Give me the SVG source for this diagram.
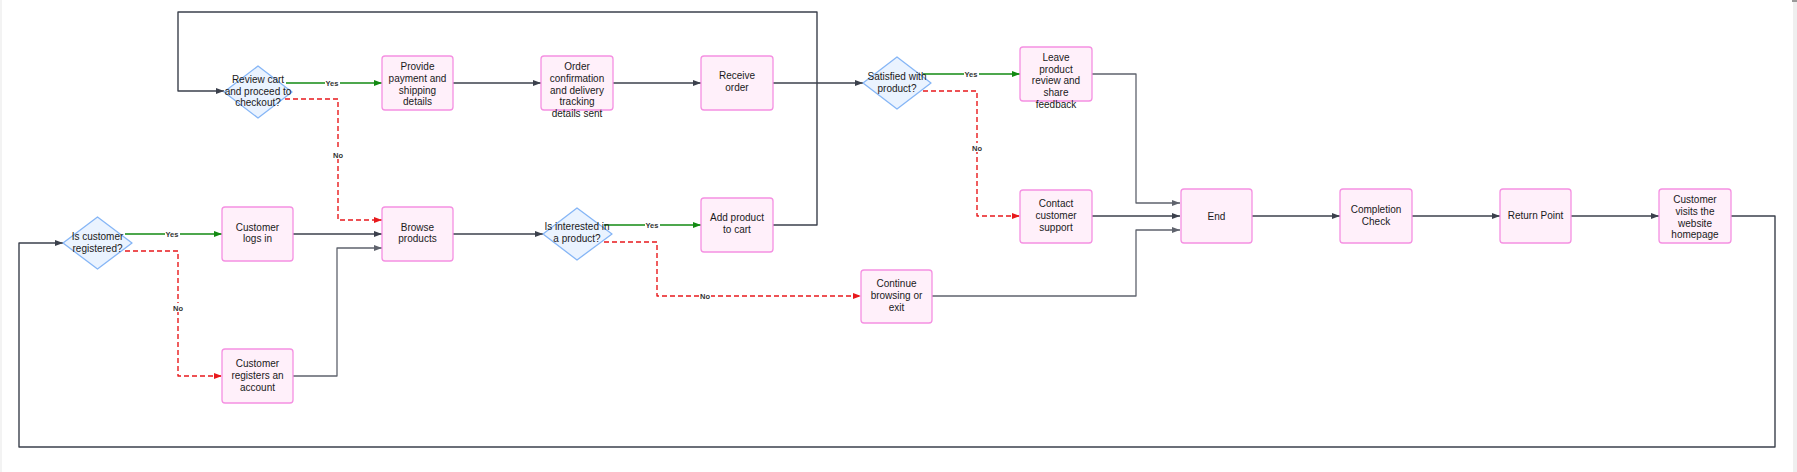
<svg xmlns="http://www.w3.org/2000/svg" width="1797" height="472" viewBox="0 0 1797 472">
<defs>
<style>
.box{fill:#fff0fa;stroke:#f590e2;stroke-width:1.3}
.dia{fill:#eaf3ff;stroke:#86b6f6;stroke-width:1.3;stroke-linejoin:round}
.t{font-family:"Liberation Sans",Arial,sans-serif;font-size:10px;fill:#1a1a1a;text-anchor:middle}
.lbl{font-family:"Liberation Sans",Arial,sans-serif;font-size:7.5px;font-weight:bold;fill:#333;text-anchor:middle}
.c{fill:none;stroke:#3b404c;stroke-width:1.4;stroke-linejoin:round}
.cl{fill:none;stroke:#5f636d;stroke-width:1.3;stroke-linejoin:round}
.g{fill:none;stroke:#128a12;stroke-width:1.4}
.r{fill:none;stroke:#e8191c;stroke-width:1.4;stroke-dasharray:5 3;stroke-linejoin:round}
.lb{fill:#fff}
</style>
<marker id="ad" markerUnits="userSpaceOnUse" markerWidth="9" markerHeight="7" refX="8" refY="3" orient="auto"><path d="M0,0 L8,3 L0,6 z" fill="#3b404c"/></marker>
<marker id="al" markerUnits="userSpaceOnUse" markerWidth="9" markerHeight="7" refX="8" refY="3" orient="auto"><path d="M0,0 L8,3 L0,6 z" fill="#5f636d"/></marker>
<marker id="ag" markerUnits="userSpaceOnUse" markerWidth="9" markerHeight="7" refX="8" refY="3" orient="auto"><path d="M0,0 L8,3 L0,6 z" fill="#128a12"/></marker>
<marker id="ar" markerUnits="userSpaceOnUse" markerWidth="9" markerHeight="7" refX="8" refY="3" orient="auto"><path d="M0,0 L8,3 L0,6 z" fill="#e8191c"/></marker>
</defs>
<rect x="0" y="0" width="1797" height="472" fill="#fff"/>
<rect x="0" y="0" width="2" height="472" fill="#f3f3f3"/>
<rect x="1793" y="0" width="4" height="472" fill="#efefef"/>
<rect x="1792" y="0" width="5" height="2" fill="#9a9a9a"/>

<g id="connectors">
<path class="g" d="M125,234 H222" marker-end="url(#ag)"/>
<path class="r" d="M125,251 H178 V376 H222" marker-end="url(#ar)"/>
<path class="c" d="M293,234 H382" marker-end="url(#ad)"/>
<path class="cl" d="M293,376 H337 V248 H382" marker-end="url(#al)"/>
<path class="r" d="M285,99 H338 V220 H382" marker-end="url(#ar)"/>
<path class="g" d="M286,83 H382" marker-end="url(#ag)"/>
<path class="c" d="M453,83 H541" marker-end="url(#ad)"/>
<path class="c" d="M613,83 H701" marker-end="url(#ad)"/>
<path class="c" d="M773,83 H863" marker-end="url(#ad)"/>
<path class="c" d="M453,234 H543" marker-end="url(#ad)"/>
<path class="g" d="M604,225 H701" marker-end="url(#ag)"/>
<path class="r" d="M604,242 H657 V296 H861" marker-end="url(#ar)"/>
<path class="c" d="M773,225 H817 V12 H178 V91 H224" marker-end="url(#ad)"/>
<path class="g" d="M923,74 H1020" marker-end="url(#ag)"/>
<path class="r" d="M923,91 H977 V216 H1020" marker-end="url(#ar)"/>
<path class="cl" d="M1092,74 H1136 V203 H1180" marker-end="url(#al)"/>
<path class="c" d="M1092,216 H1180" marker-end="url(#ad)"/>
<path class="cl" d="M932,296 H1136 V230 H1180" marker-end="url(#al)"/>
<path class="c" d="M1252,216 H1340" marker-end="url(#ad)"/>
<path class="c" d="M1412,216 H1500" marker-end="url(#ad)"/>
<path class="c" d="M1571,216 H1659" marker-end="url(#ad)"/>
<path class="c" d="M1731,216 H1775 V447 H19 V243 H63" marker-end="url(#ad)"/>
<rect class="lb" x="165" y="230" width="15" height="8"/><text class="lbl" x="172" y="236.5">Yes</text>
<rect class="lb" x="172" y="303" width="12" height="9"/><text class="lbl" x="178" y="310.5">No</text>
<rect class="lb" x="325" y="79" width="15" height="8"/><text class="lbl" x="332" y="85.5">Yes</text>
<rect class="lb" x="332" y="150" width="12" height="9"/><text class="lbl" x="338" y="157.5">No</text>
<rect class="lb" x="645" y="221" width="15" height="8"/><text class="lbl" x="652" y="227.5">Yes</text>
<rect class="lb" x="699" y="292" width="12" height="8"/><text class="lbl" x="705" y="298.5">No</text>
<rect class="lb" x="964" y="70" width="15" height="8"/><text class="lbl" x="971" y="76.5">Yes</text>
<rect class="lb" x="971" y="143" width="12" height="9"/><text class="lbl" x="977" y="150.5">No</text>
</g>

<g id="n1"><path class="dia" d="M97.5,217 L132,243 L97.5,269 L63,243 Z"/><text class="t" x="97.5" y="240">Is customer</text><text class="t" x="97.5" y="251.5">registered?</text></g>
<g id="n2"><rect class="box" x="222" y="207" width="71" height="54" rx="3"/><text class="t" x="257.5" y="230.5">Customer</text><text class="t" x="257.5" y="242">logs in</text></g>
<g id="n3"><rect class="box" x="222" y="349" width="71" height="54" rx="3"/><text class="t" x="257.5" y="366.5">Customer</text><text class="t" x="257.5" y="378.5">registers an</text><text class="t" x="257.5" y="390.5">account</text></g>
<g id="n4"><rect class="box" x="382" y="207" width="71" height="54" rx="3"/><text class="t" x="417.5" y="230.5">Browse</text><text class="t" x="417.5" y="242">products</text></g>
<g id="n5"><path class="dia" d="M258,66 L292,92 L258,118 L224,92 Z"/><text class="t" x="258" y="82.5">Review cart</text><text class="t" x="258" y="94.5">and proceed to</text><text class="t" x="258" y="106">checkout?</text></g>
<g id="n6"><rect class="box" x="382" y="56" width="71" height="54" rx="3"/><text class="t" x="417.5" y="69.5">Provide</text><text class="t" x="417.5" y="81.5">payment and</text><text class="t" x="417.5" y="93.5">shipping</text><text class="t" x="417.5" y="105">details</text></g>
<g id="n7"><rect class="box" x="541" y="56" width="72" height="54" rx="3"/><text class="t" x="577" y="69.5">Order</text><text class="t" x="577" y="81.5">confirmation</text><text class="t" x="577" y="93.5">and delivery</text><text class="t" x="577" y="105">tracking</text><text class="t" x="577" y="116.5">details sent</text></g>
<g id="n8"><rect class="box" x="701" y="56" width="72" height="54" rx="3"/><text class="t" x="737" y="79">Receive</text><text class="t" x="737" y="90.5">order</text></g>
<g id="n9"><path class="dia" d="M577,208 L612,234 L577,260 L543,234 Z"/><text class="t" x="577" y="230">Is interested in</text><text class="t" x="577" y="242">a product?</text></g>
<g id="n10"><rect class="box" x="701" y="198" width="72" height="54" rx="3"/><text class="t" x="737" y="221">Add product</text><text class="t" x="737" y="232.5">to cart</text></g>
<g id="n11"><rect class="box" x="861" y="270" width="71" height="53" rx="3"/><text class="t" x="896.5" y="286.5">Continue</text><text class="t" x="896.5" y="298.5">browsing or</text><text class="t" x="896.5" y="310.5">exit</text></g>
<g id="n12"><path class="dia" d="M897,57 L931,83 L897,109 L863,83 Z"/><text class="t" x="897" y="79.5">Satisfied with</text><text class="t" x="897" y="91.5">product?</text></g>
<g id="n13"><rect class="box" x="1020" y="47" width="72" height="54" rx="3"/><text class="t" x="1056" y="60.5">Leave</text><text class="t" x="1056" y="72.5">product</text><text class="t" x="1056" y="84">review and</text><text class="t" x="1056" y="96">share</text><text class="t" x="1056" y="107.5">feedback</text></g>
<g id="n14"><rect class="box" x="1020" y="190" width="72" height="53" rx="3"/><text class="t" x="1056" y="206.5">Contact</text><text class="t" x="1056" y="218.5">customer</text><text class="t" x="1056" y="230.5">support</text></g>
<g id="n15"><rect class="box" x="1181" y="189" width="71" height="54" rx="3"/><text class="t" x="1216.5" y="219.5">End</text></g>
<g id="n16"><rect class="box" x="1340" y="189" width="72" height="54" rx="3"/><text class="t" x="1376" y="212.5">Completion</text><text class="t" x="1376" y="224.5">Check</text></g>
<g id="n17"><rect class="box" x="1500" y="189" width="71" height="54" rx="3"/><text class="t" x="1535.5" y="219">Return Point</text></g>
<g id="n18"><rect class="box" x="1659" y="189" width="72" height="54" rx="3"/><text class="t" x="1695" y="202.5">Customer</text><text class="t" x="1695" y="214.5">visits the</text><text class="t" x="1695" y="226.5">website</text><text class="t" x="1695" y="238">homepage</text></g>
</svg>
